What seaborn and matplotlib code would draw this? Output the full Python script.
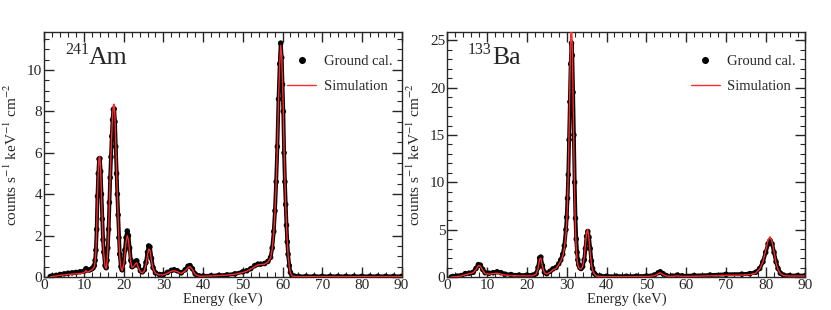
import pandas as pd
import matplotlib
matplotlib.use("Agg")
import matplotlib.pyplot as plt
from matplotlib.ticker import MultipleLocator
from matplotlib.lines import Line2D
import seaborn as sns

# ---- 241Am spectrum (energy in keV) ----
am_energy = [1.5, 2.0, 3.0, 4.0, 5.0, 6.0, 7.0, 8.0, 9.0, 10.0, 10.5, 11.0, 11.5, 12.0,
             12.3, 12.6, 12.8, 13.0, 13.2, 13.4, 13.6, 13.8, 14.0, 14.2, 14.4, 14.6, 14.8,
             15.0, 15.3, 15.6, 15.8, 16.0, 16.2, 16.4, 16.6, 16.8, 17.0, 17.2, 17.4, 17.6,
             17.8, 18.0, 18.2, 18.4, 18.6, 18.8, 19.0, 19.3, 19.6, 20.0, 20.3, 20.6, 20.9,
             21.2, 21.5, 21.8, 22.1, 22.5, 23.0, 23.3, 23.7, 24.2, 24.7, 25.2, 25.6, 26.0,
             26.3, 26.6, 27.0, 27.4, 28.0, 29.0, 30.0, 31.0, 32.0, 32.7, 33.5, 34.5, 35.5,
             36.2, 36.7, 37.3, 38.0, 39.0, 40.0, 42.0, 44.0, 46.0, 48.0, 50.0, 51.0, 52.0,
             53.0, 53.8, 54.5, 55.5, 56.3, 57.0, 57.4, 57.8, 58.1, 58.4, 58.7, 59.0, 59.3,
             59.55, 59.8, 60.0, 60.2, 60.4, 60.6, 60.8, 61.0, 61.2, 61.4, 61.7, 62.0, 62.4,
             63.0, 64.0, 66.0, 68.0, 70.0, 72.0, 74.0, 76.0, 78.0, 80.0, 82.0, 84.0, 86.0,
             88.0, 90.0]
am_ground = [0.02, 0.05, 0.08, 0.12, 0.15, 0.18, 0.20, 0.22, 0.25, 0.28, 0.40, 0.32, 0.35, 0.40,
             0.45, 0.55, 0.80, 1.30, 2.30, 3.90, 5.00, 5.70, 5.72, 5.10, 4.00, 2.80, 1.80,
             1.20, 0.55, 0.45, 0.80, 1.40, 2.30, 3.60, 4.80, 5.80, 6.80, 7.60, 8.10, 8.12,
             7.50, 6.30, 5.00, 4.00, 3.00, 1.90, 1.10, 0.50, 0.35, 0.70, 1.30, 1.90, 2.22,
             2.00, 1.40, 0.80, 0.50, 0.55, 0.75, 0.78, 0.55, 0.30, 0.25, 0.35, 0.70, 1.20,
             1.50, 1.45, 0.90, 0.45, 0.20, 0.12, 0.12, 0.22, 0.32, 0.35, 0.30, 0.20, 0.35,
             0.52, 0.55, 0.40, 0.15, 0.05, 0.05, 0.06, 0.08, 0.10, 0.15, 0.25, 0.30, 0.40,
             0.55, 0.62, 0.62, 0.65, 0.75, 0.95, 1.40, 2.20, 3.20, 4.60, 6.30, 8.60, 10.30,
             11.30, 10.60, 9.30, 8.00, 6.00, 4.60, 3.50, 2.50, 1.70, 1.10, 0.55, 0.22, 0.08,
             0.04, 0.03, 0.03, 0.03, 0.03, 0.03, 0.03, 0.03, 0.03, 0.03, 0.03, 0.03, 0.03,
             0.03, 0.03]
am_sim = [0.00, 0.02, 0.05, 0.08, 0.10, 0.12, 0.14, 0.15, 0.17, 0.20, 0.30, 0.22, 0.30, 0.35,
          0.40, 0.50, 0.75, 1.25, 2.30, 3.95, 5.10, 5.80, 5.80, 5.10, 3.95, 2.70, 1.70,
          1.10, 0.50, 0.40, 0.75, 1.35, 2.30, 3.60, 4.85, 5.90, 6.95, 7.80, 8.30, 8.35,
          7.70, 6.40, 5.00, 3.95, 2.90, 1.80, 1.00, 0.45, 0.30, 0.60, 1.10, 1.70, 2.00,
          1.80, 1.20, 0.70, 0.45, 0.50, 0.65, 0.68, 0.45, 0.25, 0.20, 0.30, 0.60, 1.05,
          1.35, 1.30, 0.80, 0.40, 0.18, 0.10, 0.10, 0.18, 0.28, 0.30, 0.26, 0.17, 0.30,
          0.45, 0.50, 0.35, 0.12, 0.04, 0.04, 0.05, 0.07, 0.09, 0.13, 0.22, 0.28, 0.38,
          0.50, 0.58, 0.60, 0.62, 0.72, 0.92, 1.35, 2.15, 3.15, 4.55, 6.25, 8.60, 10.30,
          11.20, 10.70, 9.40, 8.10, 6.10, 4.70, 3.50, 2.50, 1.70, 1.10, 0.50, 0.18, 0.05,
          0.02, 0.02, 0.02, 0.02, 0.02, 0.02, 0.02, 0.02, 0.02, 0.02, 0.02, 0.02, 0.02,
          0.02, 0.02]

# ---- 133Ba spectrum ----
ba_energy = [1.0, 1.5, 2.5, 3.5, 4.5, 5.5, 6.5, 7.2, 7.8, 8.3, 8.9, 9.5, 10.5, 11.5, 12.5,
             13.5, 14.5, 16.0, 18.0, 20.0, 21.5, 22.3, 22.8, 23.2, 23.5, 23.9, 24.4, 25.0,
             25.8, 26.5, 27.3, 28.0, 28.5, 29.0, 29.4, 29.8, 30.0, 30.2, 30.4, 30.6, 30.8,
             31.0, 31.2, 31.4, 31.6, 31.8, 32.0, 32.2, 32.4, 32.6, 32.8, 33.0, 33.3, 33.6,
             34.0, 34.4, 34.7, 35.0, 35.3, 35.6, 35.9, 36.2, 36.5, 37.0, 37.5, 38.5, 40.0,
             42.5, 45.0, 47.5, 50.0, 52.0, 53.0, 53.5, 54.2, 55.0, 56.5, 57.8, 59.0, 62.0,
             66.0, 70.0, 74.0, 76.0, 77.5, 78.5, 79.3, 80.0, 80.6, 81.1, 81.6, 82.1, 82.6,
             83.1, 83.7, 84.5, 86.0, 88.0, 90.0]
ba_ground = [0.00, 0.05, 0.10, 0.15, 0.35, 0.40, 0.50, 0.90, 1.30, 1.25, 0.80, 0.45, 0.40,
             0.45, 0.55, 0.45, 0.30, 0.25, 0.20, 0.20, 0.20, 0.35, 1.00, 2.00, 2.10, 1.20,
             0.50, 0.35, 0.60, 0.85, 1.00, 1.40, 1.80, 2.40, 3.30, 5.00, 6.30, 8.30, 10.80,
             14.50, 18.50, 22.50, 24.70, 23.40, 19.50, 15.00, 10.00, 6.20, 4.00, 2.60, 1.80,
             1.30, 1.00, 0.90, 1.10, 1.80, 3.00, 4.30, 4.80, 4.20, 3.00, 1.70, 0.90, 0.35,
             0.15, 0.10, 0.08, 0.08, 0.08, 0.09, 0.10, 0.20, 0.45, 0.55, 0.35, 0.15, 0.10,
             0.20, 0.12, 0.15, 0.20, 0.28, 0.30, 0.35, 0.50, 0.90, 1.60, 2.60, 3.50, 3.85,
             3.50, 2.60, 1.60, 0.90, 0.40, 0.20, 0.15, 0.15, 0.15]
ba_sim = [0.00, 0.02, 0.05, 0.10, 0.25, 0.35, 0.45, 0.80, 1.20, 1.15, 0.70, 0.35, 0.30,
          0.35, 0.40, 0.30, 0.20, 0.15, 0.12, 0.12, 0.12, 0.30, 0.90, 1.90, 2.00, 1.10,
          0.45, 0.30, 0.50, 0.75, 0.90, 1.30, 1.70, 2.20, 3.00, 4.50, 5.80, 8.00, 11.00,
          15.50, 20.50, 25.50, 27.00, 24.00, 19.00, 13.50, 8.50, 5.00, 3.00, 1.90, 1.30,
          1.00, 0.85, 0.85, 1.10, 2.00, 3.40, 4.70, 5.00, 4.00, 2.60, 1.40, 0.70, 0.25,
          0.10, 0.05, 0.04, 0.04, 0.04, 0.05, 0.05, 0.12, 0.35, 0.45, 0.25, 0.10, 0.06,
          0.12, 0.06, 0.08, 0.12, 0.18, 0.20, 0.25, 0.40, 0.85, 1.60, 2.80, 3.90, 4.25,
          3.70, 2.60, 1.50, 0.80, 0.35, 0.15, 0.10, 0.10, 0.10]

panels = [
    ("241", "Am", am_energy, am_ground, am_sim, 11.85, 2, 0.5),
    ("133", "Ba", ba_energy, ba_ground, ba_sim, 25.9, 5, 1),
]

sns.set_style("ticks")
plt.rcParams['font.family'] = ['Liberation Serif', 'DejaVu Serif']
plt.rcParams['mathtext.fontset'] = 'stix'

red = '#ff2a2a'
fig = plt.figure(figsize=(8.31, 3.10), dpi=100)
axes = [fig.add_axes([0.0533, 0.1065, 0.430, 0.791]),
        fig.add_axes([0.5383, 0.1065, 0.431, 0.791])]

for ax, (mass, elem, energy, ground, sim, ymax, ymaj, ymin) in zip(axes, panels):
    df = pd.DataFrame({'energy': energy, 'ground': ground, 'sim': sim})
    # merged dots look like a thick band in flat parts
    sns.lineplot(data=df, x='energy', y='ground', color='black', linewidth=2.8,
                 ax=ax, zorder=2)
    sns.scatterplot(data=df, x='energy', y='ground', color='black', s=16,
                    edgecolor='none', ax=ax, zorder=3)
    sns.lineplot(data=df, x='energy', y='sim', color=red, linewidth=1.0,
                 ax=ax, zorder=4)

    ax.set_xlim(0, 90)
    ax.set_ylim(0, ymax)
    ax.xaxis.set_major_locator(MultipleLocator(10))
    ax.xaxis.set_minor_locator(MultipleLocator(2))
    ax.yaxis.set_major_locator(MultipleLocator(ymaj))
    ax.yaxis.set_minor_locator(MultipleLocator(ymin))
    ax.tick_params(which='both', direction='in', top=True, right=True, labelsize=11,
                   pad=1.5)
    ax.tick_params(which='major', length=7, width=1.0)
    ax.tick_params(which='minor', length=3.5, width=0.8)
    for sp in ax.spines.values():
        sp.set_linewidth(1.0)
    ax.set_xlabel('Energy (keV)', fontsize=10.5, labelpad=0.5)
    ax.set_ylabel(r'counts s$^{-1}$ keV$^{-1}$ cm$^{-2}$', fontsize=11, labelpad=5)

    # isotope label: small raised mass number, large element symbol
    ax.text(0.058, 0.96, mass, transform=ax.transAxes, fontsize=11.5,
            ha='left', va='top')
    ax.text(0.125, 0.87, elem, transform=ax.transAxes, fontsize=18.5,
            ha='left', va='baseline')

    handles = [Line2D([], [], color='black', marker='o', markersize=4, linestyle='none'),
               Line2D([], [], color=red, linewidth=1.0)]
    ax.legend(handles, ['Ground cal.', 'Simulation'], loc='upper left',
              bbox_to_anchor=(0.68, 0.905), frameon=False, fontsize=10.5,
              borderaxespad=0, borderpad=0, handlelength=2.0, handletextpad=0.5,
              labelspacing=0.8)

fig.savefig('out.png', dpi=100)
